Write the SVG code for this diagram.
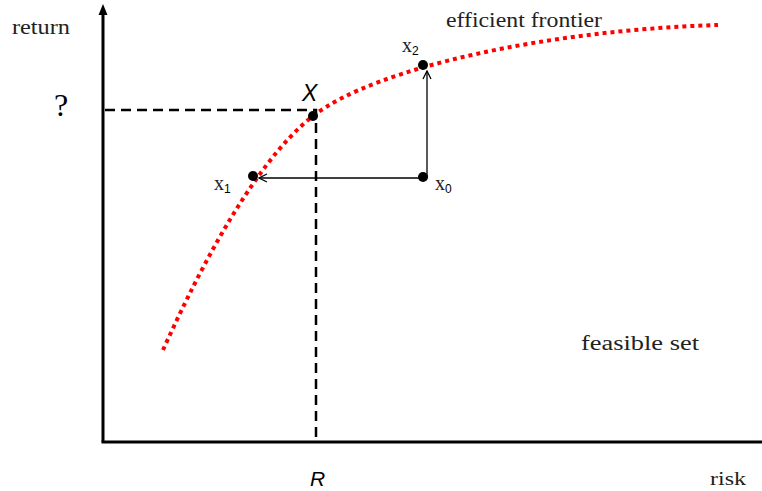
<svg xmlns="http://www.w3.org/2000/svg" width="762" height="491" viewBox="0 0 762 491">
<style>
.mono{font-family:"Liberation Serif","Times New Roman",serif;fill:#222;}
.sans{font-family:"Liberation Sans",Arial,sans-serif;fill:#000;}
.axis{stroke:#000;stroke-width:3;fill:none;}
.dash{stroke:#000;stroke-width:2.5;stroke-dasharray:10 6;fill:none;}
.frontier{stroke:#ff0000;stroke-width:4;stroke-dasharray:4 4;fill:none;}
.move{stroke:#000;stroke-width:1.3;fill:none;}
.dot{fill:#000;}
</style>
<defs>
<marker id="open" viewBox="0 0 10 10" refX="9" refY="5" markerWidth="10" markerHeight="10" markerUnits="userSpaceOnUse" orient="auto">
<path d="M1,1 L9,5 L1,9" fill="none" stroke="#000" stroke-width="1.3"/>
</marker>
</defs>
<g id="axes">
<line class="axis" x1="103" y1="442" x2="103" y2="12"/>
<path d="M103,4 L107.5,15 L98.5,15 Z" fill="#000"/>
<line class="axis" x1="101.5" y1="442" x2="762" y2="442"/>
</g>
<g id="connectors">
<path class="frontier" d="M163,350 C190,290 250,165 313,116 C376,67 550,30 718,25"/>
<path class="dash" d="M105,110 L316,110 L316,442"/>
<line class="move" x1="423" y1="178" x2="259" y2="178" marker-end="url(#open)"/>
<line class="move" x1="427" y1="178" x2="427" y2="71" marker-end="url(#open)"/>
</g>
<g id="node-X">
<circle class="dot" cx="313" cy="116" r="5"/>
<text class="sans" x="302" y="101" font-size="23" font-style="italic">X</text>
</g>
<g id="node-x1">
<circle class="dot" cx="253" cy="176" r="5"/>
<text class="mono" x="214" y="190" font-size="20">x<tspan class="sans" font-size="12" dy="3">1</tspan></text>
</g>
<g id="node-x2">
<circle class="dot" cx="423" cy="65" r="5"/>
<text class="mono" x="402" y="52" font-size="20">x<tspan class="sans" font-size="12" dy="3">2</tspan></text>
</g>
<g id="node-x0">
<circle class="dot" cx="423" cy="177" r="5"/>
<text class="mono" x="435" y="190" font-size="20">x<tspan class="sans" font-size="12" dy="3">0</tspan></text>
</g>
<g id="labels">
<text class="mono" x="12" y="34" font-size="20" textLength="58" lengthAdjust="spacingAndGlyphs">return</text>
<text x="54" y="116" font-family="Liberation Serif,Times New Roman,serif" font-size="32" fill="#000">?</text>
<text class="mono" x="446" y="27" font-size="20" textLength="156" lengthAdjust="spacingAndGlyphs">efficient frontier</text>
<text class="mono" x="581" y="350" font-size="20" textLength="118" lengthAdjust="spacingAndGlyphs">feasible set</text>
<text class="mono" x="710" y="485" font-size="19" textLength="36" lengthAdjust="spacingAndGlyphs">risk</text>
<text class="sans" x="310" y="486" font-size="21" font-style="italic">R</text>
</g>
</svg>
